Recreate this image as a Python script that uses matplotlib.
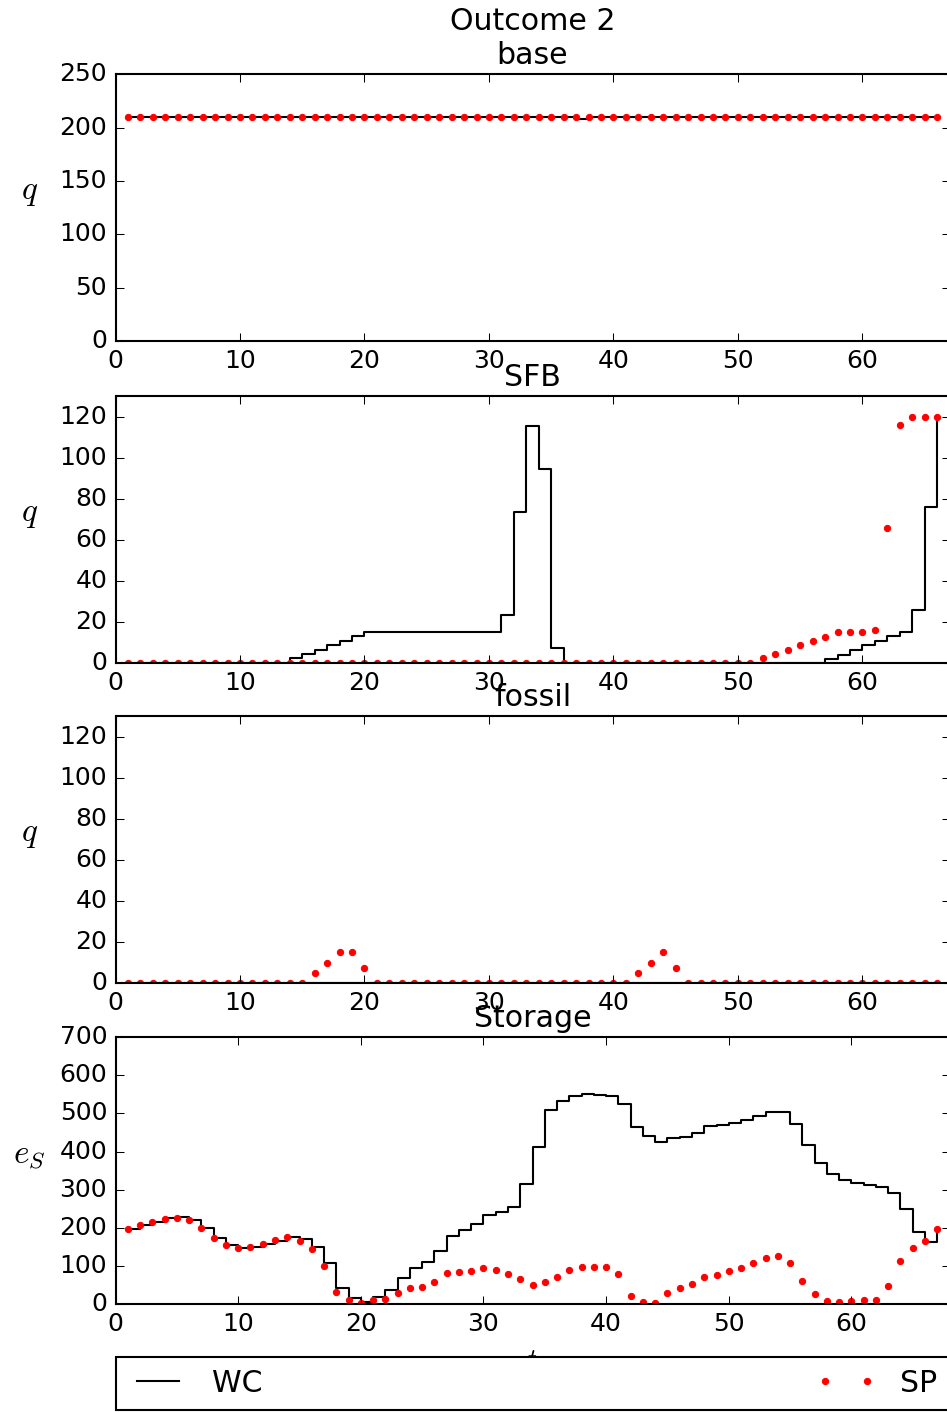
import matplotlib
matplotlib.use("Agg")
import matplotlib.pyplot as plt
import numpy as np

plt.style.use("classic")

# ================= DATA =================
periods = list(range(1, 67))
periods_storage = list(range(1, 68))

base_wc = [210, 210, 210, 210, 210, 210, 210, 210, 210, 210,
           210, 210, 210, 210, 210, 210, 210, 210, 210, 210,
           210, 210, 210, 210, 210, 210, 210, 210, 210, 210,
           210, 210, 210, 210, 210, 210, 208, 210, 210, 210,
           210, 210, 210, 210, 210, 210, 210, 210, 210, 210,
           210, 210, 210, 210, 210, 210, 210, 210, 210, 210,
           210, 210, 210, 210, 210, 210]
base_sp = [210, 210, 210, 210, 210, 210, 210, 210, 210, 210,
           210, 210, 210, 210, 210, 210, 210, 210, 210, 210,
           210, 210, 210, 210, 210, 210, 210, 210, 210, 210,
           210, 210, 210, 210, 210, 210, 210, 210, 210, 210,
           210, 210, 210, 210, 210, 210, 210, 210, 210, 210,
           210, 210, 210, 210, 210, 210, 210, 210, 210, 210,
           210, 210, 210, 210, 210, 210]

sfb_wc = [0, 0, 0, 0, 0, 0, 0, 0, 0, 0,
          0, 0, 0, 2.5, 4.2, 6.5, 8.5, 10.8, 13, 15,
          15, 15, 15, 15, 15, 15, 15, 15, 15, 15,
          23.3, 73.4, 115.3, 94.3, 7.5, 0, 0, 0, 0, 0,
          0, 0, 0, 0, 0, 0, 0, 0, 0, 0,
          0, 0, 0, 0, 0, 0, 2, 4, 6.5, 8.5,
          10.8, 13, 15, 26, 76, 120]
sfb_sp = [0, 0, 0, 0, 0, 0, 0, 0, 0, 0,
          0, 0, 0, 0, 0, 0, 0, 0, 0, 0,
          0, 0, 0, 0, 0, 0, 0, 0, 0, 0,
          0, 0, 0, 0, 0, 0, 0, 0, 0, 0,
          0, 0, 0, 0, 0, 0, 0, 0, 0, 0,
          0, 2.3, 4.4, 6.5, 8.6, 10.9, 12.7, 15, 15, 15,
          16, 66, 116, 120, 120, 120]

fossil_wc = [0, 0, 0, 0, 0, 0, 0, 0, 0, 0,
             0, 0, 0, 0, 0, 0, 0, 0, 0, 0,
             0, 0, 0, 0, 0, 0, 0, 0, 0, 0,
             0, 0, 0, 0, 0, 0, 0, 0, 0, 0,
             0, 0, 0, 0, 0, 0, 0, 0, 0, 0,
             0, 0, 0, 0, 0, 0, 0, 0, 0, 0,
             0, 0, 0, 0, 0, 0]
fossil_sp = [0, 0, 0, 0, 0, 0, 0, 0, 0, 0,
             0, 0, 0, 0, 0, 5, 10, 15, 15, 7.5,
             0, 0, 0, 0, 0, 0, 0, 0, 0, 0,
             0, 0, 0, 0, 0, 0, 0, 0, 0, 0,
             0, 5, 10, 15, 7.5, 0, 0, 0, 0, 0,
             0, 0, 0, 0, 0, 0, 0, 0, 0, 0,
             0, 0, 0, 0, 0, 0]

storage_wc = [197, 206, 216, 224.5, 227, 220, 199, 174, 155, 147,
              150.6, 157, 166, 177, 170, 150.6, 107, 41, 15, 4,
              19, 36, 67.5, 94, 110, 139, 178, 193.6, 210, 234,
              241, 255, 314.5, 412.6, 510, 532, 546.6, 552, 547.5, 545.8,
              524.7, 464.3, 439.8, 424.9, 436.3, 438, 449.4, 466, 468.7, 474.8,
              483.6, 492.3, 502.8, 502.8, 473, 417.9, 369.7, 339.9, 324.1, 317.1,
              311.9, 305.7, 290, 250.5, 190.1, 163.8, 198]
storage_sp = [197, 207, 215.5, 223, 226, 220, 200, 173.5, 154, 146,
              150.7, 158.6, 167, 176, 165.6, 143.7, 99, 32.4, 10.5, 1.8,
              11.4, 13, 29.8, 41, 43.8, 57, 81.5, 83, 86, 94.6,
              88.5, 78.8, 66.6, 50.8, 57, 71.8, 89.4, 98, 96.4, 98,
              78.8, 21, 5.3, 1.8, 28.9, 41.2, 52.6, 71.8, 76.2, 86.7,
              94.6, 106.9, 120, 126, 106.9, 61.3, 25.4, 8.8, 5.3, 7.9,
              10.5, 10.5, 48.2, 112, 146, 164.7, 198]

titles = ["Outcome 2\nbase", "SFB", "fossil", "Storage"]
ylabels = ["$q$", "$q$", "$q$", "$e_S$"]
q_yticks = [0, 20, 40, 60, 80, 100, 120]
base_yticks = [0, 50, 100, 150, 200, 250]
storage_yticks = [0, 100, 200, 300, 400, 500, 600, 700]

# ================= FIGURE =================
fig = plt.figure(figsize=(947 / 150, 1412 / 150), dpi=150)
fig.patch.set_facecolor("white")

left, width, height = 0.122, 0.8807, 0.1889
bottoms = [0.7585, 0.5305, 0.3038, 0.0765]
axes = [fig.add_axes([left, b, width, height]) for b in bottoms]

panels = [
    (periods, base_wc, base_sp, (0, 67), (0, 250), base_yticks),
    (periods, sfb_wc, sfb_sp, (0, 67), (0, 130), q_yticks),
    (periods, fossil_wc, fossil_sp, (0, 67), (0, 130), q_yticks),
    (periods_storage, storage_wc, storage_sp, (0, 68), (0, 700), storage_yticks),
]

for ax, (x, wc, sp, xlim, ylim, yticks), title, ylab in zip(axes, panels, titles, ylabels):
    ax.plot(x, wc, "k-", drawstyle="steps-post", label="WC")
    ax.plot(x, sp, "r.", label="SP")
    ax.set_xlim(*xlim)
    ax.set_ylim(*ylim)
    ax.set_yticks(yticks)
    ax.set_xticks([0, 10, 20, 30, 40, 50, 60])
    ax.set_title(title)
    ax.set_ylabel(ylab, rotation=0, fontsize=16)
    ax.yaxis.set_label_coords(-0.103, 0.5)

axes[3].set_xlabel("$t$")
axes[3].legend(loc="upper left", bbox_to_anchor=(0, -0.198, 1, 0), mode="expand",
               ncol=2, borderaxespad=0)

fig.savefig("out.png", dpi=150, facecolor="white")
